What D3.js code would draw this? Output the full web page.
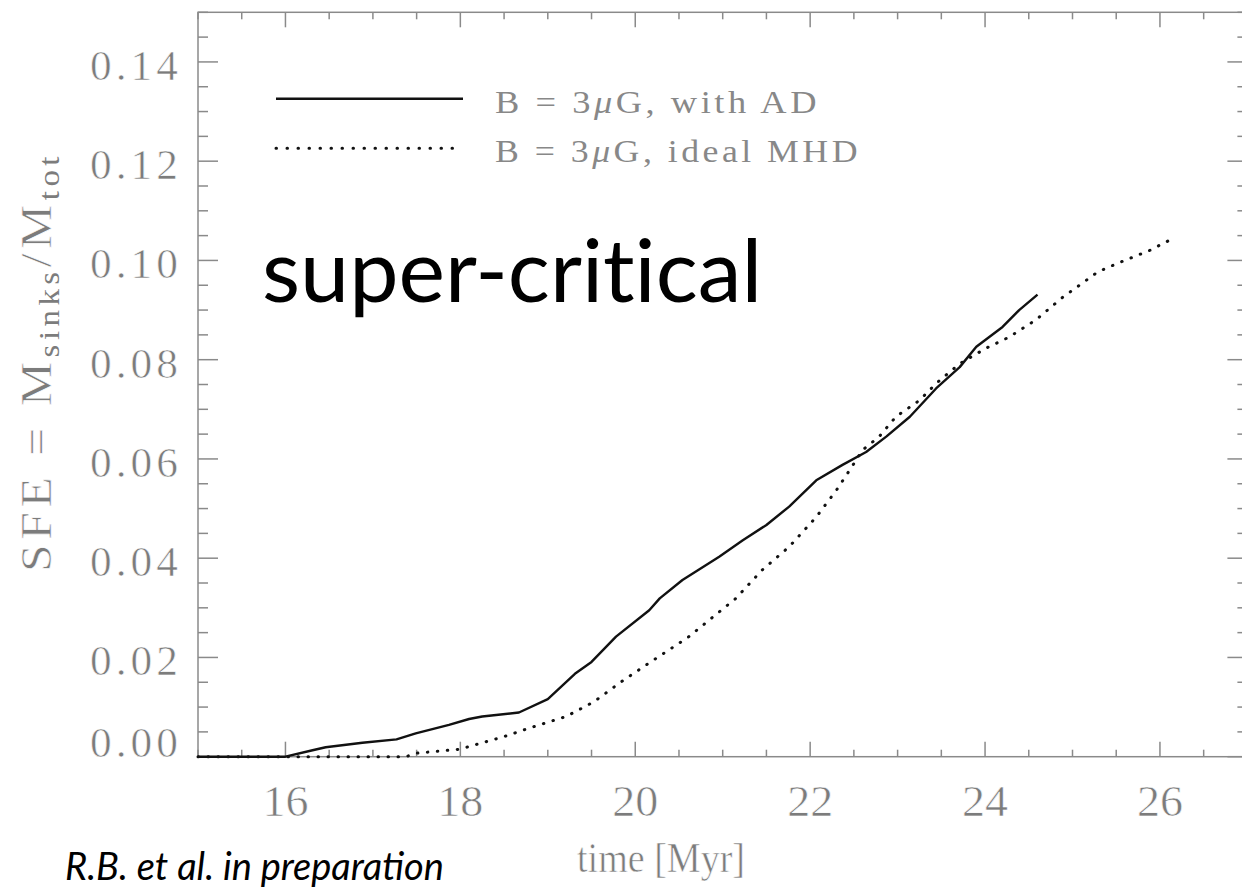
<!DOCTYPE html>
<html>
<head>
<meta charset="utf-8">
<script src="https://cdn.jsdelivr.net/npm/d3@7/dist/d3.min.js"></script>
<style>
  html, body { margin: 0; padding: 0; background: #fff; }
  svg { display: block; }
  .thin { stroke: #fff; stroke-width: 0.6px; paint-order: normal; }
</style>
</head>
<body>
<svg id="chart" width="1242" height="896"></svg>
<script>
// Star formation efficiency vs time, two magnetised runs
const timeAD = [15.0, 16.0, 16.31, 16.46, 16.88, 17.27, 17.49, 17.87, 18.10, 18.25, 18.67, 19.0, 19.31, 19.50, 19.78, 20.16, 20.28, 20.54, 20.96, 21.23, 21.50, 21.76, 22.07, 22.37, 22.64, 22.87, 23.14, 23.44, 23.71, 23.90, 24.20, 24.39, 24.60];
const sfeAD = [0, 0, 0.0013, 0.0019, 0.0028, 0.0035, 0.0047, 0.0064, 0.0076, 0.0081, 0.0089, 0.0116, 0.0167, 0.0191, 0.0242, 0.0295, 0.0319, 0.0356, 0.0403, 0.0436, 0.0467, 0.0504, 0.0557, 0.0588, 0.0614, 0.0645, 0.0685, 0.0742, 0.0785, 0.0826, 0.0866, 0.0900, 0.0931];

const timeIdeal = [15.0, 17.38, 17.49, 17.99, 18.49, 18.83, 19.21, 19.53, 19.84, 20.16, 20.6, 21.15, 21.45, 21.76, 22.07, 22.30, 22.45, 22.60, 22.79, 22.98, 23.25, 23.44, 23.71, 24.01, 24.28, 24.58, 24.89, 25.08, 25.29, 25.54, 25.88, 26.09];
const sfeIdeal = [0, 0, 0.0007, 0.0015, 0.0040, 0.0060, 0.0081, 0.0111, 0.0151, 0.0189, 0.0240, 0.0319, 0.0376, 0.0423, 0.0483, 0.0537, 0.0577, 0.0618, 0.0645, 0.0685, 0.0718, 0.0752, 0.0792, 0.0823, 0.0846, 0.0880, 0.0926, 0.0950, 0.0977, 0.0996, 0.1020, 0.1039];

const xTicks = [16, 18, 20, 22, 24, 26];
const xMinor = d3.range(15, 27.01, 0.5);
const yTicks = [0, 0.02, 0.04, 0.06, 0.08, 0.10, 0.12, 0.14];
const yMinor = d3.range(0, 0.1501, 0.005);
const seriesLabels = ["with AD", "ideal MHD"];

const svg = d3.select("#chart");
const x = d3.scaleLinear().domain([15, 27]).range([198, 1247.4]);
const y = d3.scaleLinear().domain([0, 0.15]).range([756.7, 12.3]);

const axisColor = "#8a8a8a";
const labelColor = "#7c7c7c";
const serif = "'Liberation Serif', 'Times New Roman', serif";

// frame
svg.append("rect")
  .attr("x", x(15)).attr("y", y(0.15))
  .attr("width", x(27) - x(15)).attr("height", y(0) - y(0.15))
  .attr("fill", "none").attr("stroke", axisColor).attr("stroke-width", 1.5);

const ticks = svg.append("g").attr("stroke", axisColor).attr("stroke-width", 1.5);
const isMajorX = v => Math.abs(v - Math.round(v)) < 1e-6 && Math.round(v) % 2 === 0;
xMinor.forEach(v => {
  const len = isMajorX(v) ? 15 : 7;
  ticks.append("line").attr("x1", x(v)).attr("x2", x(v)).attr("y1", y(0)).attr("y2", y(0) - len);
  ticks.append("line").attr("x1", x(v)).attr("x2", x(v)).attr("y1", y(0.15)).attr("y2", y(0.15) + len);
});
const isMajorY = v => Math.abs(v / 0.02 - Math.round(v / 0.02)) < 1e-6;
yMinor.forEach(v => {
  const len = isMajorY(v) ? 20 : 10;
  ticks.append("line").attr("y1", y(v)).attr("y2", y(v)).attr("x1", x(15)).attr("x2", x(15) + len);
  ticks.append("line").attr("y1", y(v)).attr("y2", y(v)).attr("x1", x(27)).attr("x2", x(27) - len);
});

// tick labels
svg.append("g").selectAll("text").data(xTicks).join("text")
  .attr("class", "thin")
  .attr("x", d => x(d)).attr("y", y(0) + 59)
  .attr("text-anchor", "middle")
  .attr("font-family", serif).attr("font-size", 44)
  .attr("fill", labelColor)
  .attr("textLength", 46).attr("lengthAdjust", "spacingAndGlyphs")
  .text(d => d);

svg.append("g").selectAll("text").data(yTicks).join("text")
  .attr("class", "thin")
  .attr("x", 182).attr("y", d => d === 0 ? y(d) : y(d) + 18)
  .attr("text-anchor", "end")
  .attr("font-family", serif).attr("font-size", 43)
  .attr("fill", labelColor)
  .attr("letter-spacing", 4)
  .attr("textLength", 92).attr("lengthAdjust", "spacingAndGlyphs")
  .text(d => d.toFixed(2));

// axis titles
svg.append("text")
  .attr("class", "thin")
  .attr("x", 661).attr("y", 872)
  .attr("text-anchor", "middle")
  .attr("font-family", serif).attr("font-size", 43)
  .attr("fill", labelColor)
  .attr("textLength", 168).attr("lengthAdjust", "spacingAndGlyphs")
  .text("time [Myr]");

const yt = svg.append("text")
  .attr("class", "thin")
  .attr("transform", "translate(51,362) rotate(-90)")
  .attr("text-anchor", "middle")
  .attr("font-family", serif).attr("font-size", 44)
  .attr("fill", labelColor)
  .attr("letter-spacing", 4)
  .attr("textLength", 420).attr("lengthAdjust", "spacingAndGlyphs");
yt.append("tspan").text("SFE = M");
yt.append("tspan").attr("font-size", 29).attr("dy", 8).attr("stroke-width", 0).text("sinks");
yt.append("tspan").attr("dy", -8).text("/M");
yt.append("tspan").attr("font-size", 29).attr("dy", 8).attr("stroke-width", 0).text("tot");

// curves
const line = d3.line().x(d => x(d[0])).y(d => y(d[1]));
svg.append("path")
  .datum(d3.zip(timeIdeal, sfeIdeal))
  .attr("d", line)
  .attr("fill", "none").attr("stroke", "#111")
  .attr("stroke-width", 3).attr("stroke-linecap", "round")
  .attr("stroke-dasharray", "0.5 9.5");
svg.append("path")
  .datum(d3.zip(timeAD, sfeAD))
  .attr("d", line)
  .attr("fill", "none").attr("stroke", "#111")
  .attr("stroke-width", 2.4).attr("stroke-linejoin", "round");

// legend
const legend = svg.append("g");
const legRows = [
  { label: seriesLabels[0], dash: null, ly: 98.7, ty: 113, w: 325 },
  { label: seriesLabels[1], dash: "0.5 10.5", ly: 148.3, ty: 162, w: 366 }
];
legRows.forEach(r => {
  legend.append("line")
    .attr("x1", 276).attr("x2", 463).attr("y1", r.ly).attr("y2", r.ly)
    .attr("stroke", "#111").attr("stroke-width", r.dash ? 3 : 2.4)
    .attr("stroke-linecap", r.dash ? "round" : "butt")
    .attr("stroke-dasharray", r.dash);
  const t = legend.append("text")
    .attr("x", 495).attr("y", r.ty)
    .attr("font-family", serif).attr("font-size", 31)
    .attr("fill", "#888")
    .attr("letter-spacing", 3)
    .attr("textLength", r.w).attr("lengthAdjust", "spacingAndGlyphs");
  t.append("tspan").text("B = 3");
  t.append("tspan").attr("font-style", "italic").text("\u03BC");
  t.append("tspan").text("G, " + r.label);
});

// annotations
svg.append("text")
  .attr("x", 262).attr("y", 301.7)
  .attr("font-family", "Lato, 'Open Sans', sans-serif").attr("font-size", 88)
  .style("font-variant-ligatures", "none")
  .attr("fill", "#000")
  .text("super-critical");

svg.append("text")
  .attr("x", 65).attr("y", 880)
  .attr("font-family", "Lato, 'Open Sans', sans-serif").attr("font-size", 38)
  .attr("font-style", "italic")
  .attr("fill", "#000")
  .text("R.B. et al. in preparation");
</script>
</body>
</html>
